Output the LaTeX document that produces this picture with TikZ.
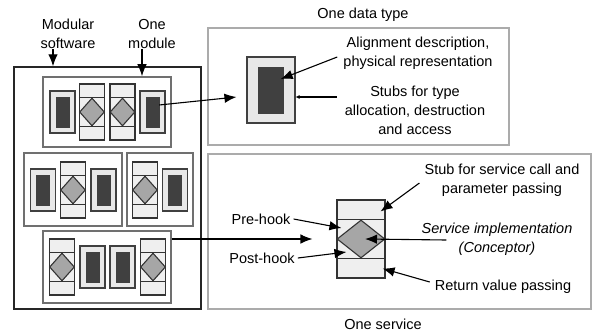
\documentclass[tikz,border=0pt]{standalone}
\usepackage{fontspec}
\setmainfont{Liberation Sans}
\usetikzlibrary{arrows.meta,shapes.geometric}
\definecolor{SymLight}{HTML}{E8E8E8}
\definecolor{SymDark}{HTML}{404040}
\definecolor{HookGray}{HTML}{A6A6A6}
\definecolor{ModEdge}{HTML}{707070}
\definecolor{FrameEdge}{HTML}{ABABAB}
\newcommand{\lblfont}{\fontsize{14.5}{19}\selectfont}

\tikzset{
  swbox/.style={draw=black!85, line width=1.5pt, inner sep=0pt},
  modbox/.style={draw=ModEdge, line width=1.6pt, inner sep=0pt},
  framebox/.style={draw=FrameEdge, line width=1.4pt, inner sep=0pt},
  typebox/.style={draw=black!75, fill=SymLight, line width=1.1pt, inner sep=0pt},
  typecore/.style={fill=SymDark, draw=SymDark, inner sep=0pt},
  servbox/.style={draw=black!80, fill=SymLight!70, line width=1.1pt, inner sep=0pt},
  servline/.style={draw=black!80, line width=1.1pt},
  hook/.style={diamond, draw=black!80, fill=HookGray, line width=1.1pt, inner sep=0pt},
  lbl/.style={align=center, font=\lblfont, inner sep=0pt},
  arr/.style={-{Latex[length=12pt,width=9.5pt]}, line width=1.1pt},
  dotarr/.style={-{Latex[length=4pt,width=4pt]}, line width=1.1pt},
}

% type symbol: name, centre, width, height
\newcommand{\typesym}[4]{%
  \node[typebox, minimum width=#3, minimum height=#4] (#1) at (#2) {};
  \node[typecore, minimum width=0.52*#3, minimum height=0.7*#4] (#1c) at (#1) {};
}
% service symbol: name, centre, width, height, strip
\newcommand{\servsym}[5]{%
  \node[servbox, minimum width=#3, minimum height=#4] (#1) at (#2) {};
  \draw[servline] ([yshift=-#5]#1.north west) -- ([yshift=-#5]#1.north east);
  \draw[servline] ([yshift=#5]#1.south west) -- ([yshift=#5]#1.south east);
  \node[hook, minimum width=#3, minimum height=#4-2*#5] (#1d) at (#1) {};
}

\begin{document}
\begin{tikzpicture}[x=1pt,y=-1pt]
  \useasboundingbox (0,0) rectangle (597,335);

  % modular software and its modules
  \node[swbox, minimum width=187pt, minimum height=242pt] (sw) at (107.5,188) {};
  \node[modbox, minimum width=128pt, minimum height=70pt] (m1) at (107,112) {};
  \node[modbox, minimum width=98pt, minimum height=73pt] (m2) at (73,189.5) {};
  \node[modbox, minimum width=66pt, minimum height=73pt] (m3) at (160,189.5) {};
  \node[modbox, minimum width=128pt, minimum height=72pt] (m4) at (107,267) {};

  \typesym{t11}{62.5,112}{25pt}{42pt}
  \servsym{s12}{92,112}{25pt}{56pt}{14pt}
  \servsym{s13}{122.5,112}{25pt}{56pt}{14pt}
  \typesym{t14}{152.5,112}{25pt}{42pt}

  \typesym{t21}{43,190}{25pt}{42pt}
  \servsym{s22}{73,190}{25pt}{56pt}{14pt}
  \typesym{t23}{103.5,190}{25pt}{42pt}

  \servsym{s31}{145,190}{25pt}{56pt}{14pt}
  \typesym{t32}{175,190}{25pt}{42pt}

  \servsym{s41}{62,267}{25pt}{56pt}{14pt}
  \typesym{t42}{92.5,267}{25pt}{42pt}
  \typesym{t43}{122.5,267}{25pt}{42pt}
  \servsym{s44}{153,267}{25pt}{56pt}{14pt}

  \node[lbl] (swtxt) at (68,34) {Modular\\software};
  \node[lbl] (modtxt) at (152,34) {One\\module};
  \draw[arr] ([xshift=-15pt]swtxt.south) -- ([xshift=-15pt]swtxt.south |- sw.north);
  \draw[arr] ([xshift=-10pt]modtxt.south) -- ([xshift=-10pt]modtxt.south |- m1.north);

  % one data type
  \node[framebox, minimum width=301pt, minimum height=117pt] (dt) at (358.5,86.5) {};
  \node[lbl] (dttxt) at (363,15) {One data type};
  \typesym{bigt}{271,90}{48pt}{66pt}
  \node[lbl] (alntxt) at (418,53) {Alignment description,\\physical representation};
  \node[lbl] (stbtxt) at (415,110) {Stubs for type\\allocation, destruction\\and access};
  \draw[arr] ([xshift=-6pt,yshift=-4pt]alntxt.west) -- ([xshift=-3pt,yshift=11pt]bigtc.east);
  \draw[dotarr] ([xshift=-8pt,yshift=13pt]stbtxt.west) -- ([yshift=-7pt]bigt.east);
  \draw[arr] ([yshift=7pt]t14c.east) -- ([xshift=-10pt,yshift=-7pt]bigt.west);

  % one service
  \node[framebox, minimum width=383pt, minimum height=155pt] (sv) at (399.5,231.5) {};
  \node[lbl] (svtxt) at (383,324) {One service};
  \servsym{bigs}{361,239}{48pt}{78pt}{20pt}
  \node[lbl] (stubtxt) at (502,180) {Stub for service call and\\parameter passing};
  \node[lbl] (pretxt) at (261,219) {Pre-hook};
  \node[lbl] (posttxt) at (262,258) {Post-hook};
  \node[lbl, font=\lblfont\itshape] (impltxt) at (497,239) {Service implementation\\(Conceptor)};
  \node[lbl] (rettxt) at (503,287) {Return value passing};
  \draw[arr] ([xshift=-5pt,yshift=-3pt]stubtxt.west) -- ([xshift=-5pt,yshift=-12pt]bigs.north east);
  \draw[arr] ([xshift=3pt]pretxt.east) -- ([xshift=5pt,yshift=11pt]bigs.west);
  \draw[arr] ([xshift=3pt]posttxt.east) -- ([xshift=10pt,yshift=-13pt]bigs.west);
  \draw[arr] ([xshift=25pt,yshift=-1pt]impltxt.west) -- ([xshift=4pt]bigsd.center);
  \draw[arr] ([xshift=-5pt,yshift=5pt]rettxt.west) -- ([xshift=-3pt,yshift=10pt]bigs.south east);
  \draw[arr] (m4.east |- bigs) -- ([xshift=-24pt]bigs.west);
\end{tikzpicture}
\end{document}
